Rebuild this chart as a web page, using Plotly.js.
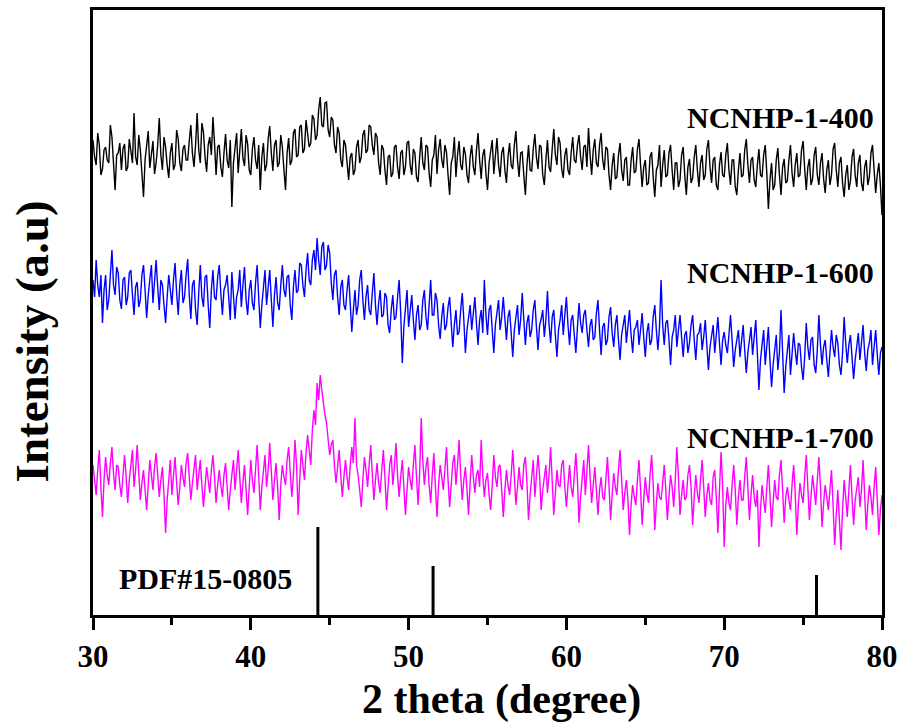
<!DOCTYPE html>
<html>
<head>
<meta charset="utf-8">
<script src="https://cdn.plot.ly/plotly-3.0.1.min.js"></script>
<style>
  html, body { margin: 0; padding: 0; background: #fff; }
  #chart { width: 905px; height: 724px; }
</style>
</head>
<body>
<div id="chart"></div>
<script>
// XRD scans, 2θ from 30° to 80° in 0.1° steps (stacked, arbitrary units)
const twoThetaStart = 30;
const twoThetaStep = 0.1;

const sampleNames = ["NCNHP-1-400", "NCNHP-1-600", "NCNHP-1-700"];

const i400 = [
  475, 458, 450, 482, 470, 440, 446, 465, 468, 455, 452, 490, 478, 448, 425, 460, 462, 472, 445, 466,
  471, 444, 448, 476, 466, 452, 502, 458, 450, 480, 465, 438, 418, 455, 470, 484, 447, 460, 474, 441,
  452, 470, 497, 460, 445, 478, 468, 450, 437, 462, 472, 445, 450, 485, 476, 452, 444, 466, 470, 455,
  455, 474, 490, 462, 448, 470, 502, 465, 452, 492, 483, 458, 443, 470, 478, 460, 498, 472, 440, 468,
  470, 448, 438, 462, 481, 455, 447, 475, 408, 452, 465, 482, 442, 460, 486, 457, 449, 480, 471, 445,
  440, 466, 478, 455, 446, 470, 425, 458, 472, 444, 450, 476, 489, 462, 444, 470, 475, 448, 452, 480,
  468, 445, 425, 462, 477, 450, 455, 482, 486, 458, 460, 488, 490, 462, 466, 495, 483, 468, 472, 500,
  496, 475, 480, 505, 518, 490, 488, 512, 513, 485, 478, 498, 495, 470, 462, 488, 482, 455, 448, 475,
  470, 450, 435, 458, 462, 440, 445, 468, 475, 452, 458, 480, 485, 462, 465, 490, 488, 470, 460, 482,
  478, 452, 440, 470, 466, 445, 430, 458, 460, 438, 442, 468, 470, 448, 436, 462, 465, 440, 448, 472,
  474, 450, 440, 466, 462, 438, 433, 458, 478, 452, 445, 470, 468, 442, 428, 455, 460, 480, 441, 465,
  476, 455, 447, 470, 463, 440, 420, 452, 458, 478, 438, 460, 474, 450, 445, 468, 461, 440, 432, 458,
  470, 448, 440, 465, 482, 455, 436, 460, 466, 442, 425, 452, 462, 475, 441, 458, 477, 450, 438, 462,
  468, 445, 432, 458, 472, 450, 446, 470, 484, 455, 438, 462, 463, 440, 420, 450, 470, 445, 444, 466,
  481, 458, 446, 470, 468, 440, 430, 455, 475, 448, 443, 466, 486, 460, 450, 478, 472, 446, 437, 460,
  467, 445, 440, 462, 478, 455, 452, 470, 480, 458, 445, 468, 470, 448, 487, 460, 440, 465, 476, 452,
  448, 470, 482, 455, 445, 468, 466, 440, 425, 450, 462, 436, 438, 460, 472, 445, 434, 455, 458, 430,
  430, 455, 468, 442, 444, 466, 476, 450, 428, 448, 455, 430, 432, 458, 463, 438, 418, 445, 450, 470,
  428, 450, 465, 438, 440, 462, 470, 445, 425, 452, 452, 428, 435, 460, 468, 440, 420, 448, 456, 432,
  437, 458, 470, 445, 428, 452, 460, 435, 440, 466, 475, 448, 432, 455, 458, 430, 425, 450, 463, 440,
  438, 460, 472, 445, 430, 455, 455, 428, 420, 445, 462, 438, 440, 465, 476, 450, 432, 455, 458, 435,
  428, 450, 466, 440, 438, 460, 470, 442, 406, 435, 452, 425, 430, 455, 467, 440, 420, 448, 456, 432,
  434, 455, 470, 442, 428, 450, 462, 438, 440, 465, 474, 446, 425, 448, 456, 430, 436, 460, 468, 440,
  430, 452, 462, 436, 422, 445, 455, 430, 440, 466, 472, 445, 428, 452, 458, 432, 418, 440, 450, 425,
  434, 458, 466, 440, 428, 452, 460, 432, 424, 448, 455, 430, 438, 462, 470, 445, 422, 440, 452, 430,
  400
];

const i600 = [
  335, 318, 355, 330, 318, 340, 292, 325, 340, 305, 315, 345, 365, 330, 320, 348, 342, 315, 306, 335,
  338, 310, 318, 342, 345, 320, 300, 328, 333, 308, 315, 340, 350, 325, 297, 320, 336, 350, 312, 330,
  355, 328, 305, 335, 330, 310, 292, 318, 340, 325, 310, 335, 352, 322, 300, 330, 345, 312, 318, 340,
  356, 320, 296, 330, 335, 305, 290, 322, 350, 318, 308, 338, 340, 310, 287, 325, 345, 318, 315, 338,
  350, 322, 300, 325, 330, 340, 312, 295, 343, 320, 296, 318, 325, 345, 308, 330, 348, 315, 300, 325,
  335, 312, 305, 332, 350, 318, 287, 310, 330, 345, 310, 325, 345, 315, 288, 320, 338, 312, 305, 330,
  350, 325, 318, 338, 340, 310, 295, 328, 345, 322, 325, 352, 350, 330, 318, 345, 362, 335, 330, 355,
  365, 345, 377, 355, 340, 368, 373, 345, 350, 370, 362, 332, 315, 340, 345, 318, 300, 328, 335, 310,
  305, 325, 340, 312, 283, 305, 325, 300, 310, 335, 345, 315, 295, 318, 330, 305, 300, 322, 342, 310,
  290, 312, 325, 298, 300, 322, 318, 290, 282, 305, 320, 295, 298, 318, 335, 302, 252, 288, 305, 325,
  288, 305, 320, 295, 275, 300, 310, 285, 290, 315, 325, 298, 285, 310, 335, 300, 300, 322, 315, 290,
  276, 298, 312, 285, 290, 308, 318, 292, 268, 290, 305, 280, 283, 305, 322, 295, 262, 285, 300, 310,
  285, 300, 318, 292, 270, 295, 305, 282, 335, 300, 280, 305, 310, 285, 262, 290, 302, 315, 285, 298,
  318, 292, 275, 298, 305, 282, 258, 285, 298, 310, 280, 295, 322, 288, 270, 292, 300, 278, 285, 305,
  315, 288, 265, 290, 296, 305, 278, 295, 324, 290, 272, 298, 305, 280, 258, 285, 295, 310, 280, 300,
  318, 290, 270, 295, 300, 280, 262, 288, 312, 292, 282, 300, 305, 285, 268, 290, 296, 275, 278, 302,
  315, 285, 260, 288, 292, 270, 275, 298, 308, 282, 268, 290, 300, 275, 255, 280, 290, 300, 272, 290,
  305, 280, 262, 285, 288, 295, 270, 285, 302, 278, 258, 282, 292, 270, 275, 298, 310, 285, 265, 288,
  335, 290, 270, 292, 295, 275, 250, 278, 285, 300, 268, 285, 300, 278, 258, 280, 284, 262, 272, 290,
  300, 275, 255, 280, 282, 292, 265, 278, 295, 270, 245, 268, 278, 290, 262, 278, 298, 272, 250, 275,
  283, 270, 262, 280, 300, 275, 248, 265, 278, 285, 258, 272, 290, 265, 242, 262, 275, 288, 260, 278,
  295, 262, 225, 255, 270, 285, 250, 268, 288, 255, 228, 250, 265, 280, 245, 262, 305, 270, 222, 248,
  262, 280, 240, 258, 282, 265, 250, 272, 270, 248, 235, 258, 292, 268, 255, 275, 278, 250, 242, 265,
  300, 270, 250, 268, 275, 255, 238, 262, 285, 268, 258, 280, 272, 250, 240, 262, 298, 272, 252, 270,
  280, 258, 236, 255, 268, 282, 255, 270, 290, 262, 244, 265, 272, 285, 250, 268, 285, 260, 240, 262,
  268
];

const i700 = [
  150, 132, 120, 145, 165, 128, 98, 135, 158, 140, 130, 152, 168, 142, 125, 150, 148, 130, 118, 140,
  160, 138, 112, 135, 150, 165, 128, 145, 170, 140, 115, 132, 145, 125, 105, 130, 155, 140, 125, 148,
  162, 140, 118, 135, 148, 120, 82, 115, 140, 155, 120, 138, 158, 132, 110, 128, 150, 138, 128, 152,
  162, 138, 115, 132, 145, 160, 125, 140, 155, 130, 108, 128, 148, 135, 122, 145, 160, 138, 112, 130,
  145, 130, 118, 140, 152, 128, 105, 125, 140, 155, 125, 142, 165, 138, 112, 132, 150, 125, 100, 128,
  155, 135, 122, 145, 170, 140, 105, 128, 148, 160, 128, 145, 172, 138, 115, 135, 152, 128, 95, 130,
  150, 138, 130, 155, 168, 142, 118, 140, 175, 150, 100, 135, 165, 150, 135, 162, 180, 165, 150, 185,
  205, 190, 232, 215, 240, 225, 210, 200, 192, 175, 160, 170, 175, 150, 132, 148, 165, 140, 118, 138,
  155, 138, 125, 150, 168, 152, 197, 150, 140, 125, 108, 135, 158, 145, 128, 150, 170, 140, 115, 135,
  152, 132, 122, 145, 165, 138, 105, 128, 150, 160, 130, 148, 172, 140, 118, 138, 155, 128, 100, 125,
  148, 135, 125, 150, 170, 138, 110, 142, 197, 155, 130, 148, 158, 130, 112, 140, 162, 128, 98, 130,
  150, 138, 125, 145, 168, 135, 108, 130, 152, 160, 130, 150, 175, 140, 115, 135, 148, 125, 100, 132,
  160, 138, 122, 140, 145, 128, 175, 140, 118, 135, 142, 120, 105, 130, 160, 138, 128, 148, 150, 125,
  98, 125, 145, 130, 120, 140, 165, 138, 110, 128, 148, 130, 125, 150, 158, 132, 95, 120, 140, 155,
  118, 135, 160, 140, 105, 125, 138, 150, 122, 140, 168, 135, 100, 122, 145, 130, 128, 150, 155, 128,
  108, 130, 150, 128, 118, 140, 162, 135, 92, 118, 140, 155, 120, 142, 170, 138, 112, 130, 148, 125,
  100, 125, 138, 118, 115, 135, 158, 130, 95, 120, 142, 128, 120, 145, 165, 135, 105, 122, 135, 115,
  80, 110, 130, 118, 110, 135, 155, 125, 90, 115, 138, 122, 112, 140, 160, 130, 85, 112, 132, 118,
  115, 132, 150, 125, 95, 118, 140, 128, 108, 135, 168, 138, 100, 120, 135, 115, 118, 140, 150, 128,
  90, 118, 140, 122, 112, 135, 155, 128, 98, 120, 132, 115, 110, 138, 145, 118, 82, 125, 163, 130,
  68, 110, 128, 112, 105, 130, 150, 125, 90, 118, 135, 115, 115, 138, 158, 128, 95, 120, 140, 118,
  108, 125, 68, 105, 130, 115, 102, 128, 150, 120, 88, 112, 135, 118, 115, 140, 155, 125, 92, 118,
  128, 115, 105, 130, 150, 122, 80, 110, 132, 120, 112, 138, 160, 128, 95, 118, 140, 125, 110, 135,
  158, 128, 88, 112, 130, 118, 105, 125, 145, 110, 70, 100, 125, 95, 65, 105, 135, 118, 98, 125,
  150, 118, 90, 115, 128, 138, 108, 125, 155, 120, 85, 110, 130, 118, 100, 128, 148, 115, 80, 105,
  120
];

// Reference card PDF#15-0805: peak positions and relative intensities
const pdfLabel = "PDF#15-0805";
const pdfPos = [44.25, 51.55, 75.85];
const pdfInt = [88, 49, 40];

const xTitle = "2 theta (degree)";
const yTitle = "Intensity (a.u)";

const serif = "Liberation Serif, Times New Roman, serif";

function scanTrace(values, color) {
  return {
    type: "scatter",
    mode: "lines",
    x0: twoThetaStart,
    dx: twoThetaStep,
    y: values,
    line: { color: color, width: 1.4 },
    showlegend: false
  };
}

// stick pattern: one vertical segment per reference peak
const stickX = [];
const stickY = [];
pdfPos.forEach((p, k) => {
  stickX.push(p, p, null);
  stickY.push(0, pdfInt[k], null);
});

const traces = [
  scanTrace(i400, "#000000"),
  scanTrace(i600, "#0000FF"),
  scanTrace(i700, "#FF00FF"),
  {
    type: "scatter",
    mode: "lines",
    x: stickX,
    y: stickY,
    line: { color: "#000000", width: 3 },
    showlegend: false
  }
];

const labelFont = { family: serif, size: 30, color: "#000", weight: "bold" };
const titleFont = { family: serif, size: 42, color: "#000", weight: "bold" };

const labelY = [498, 343, 178];
const annotations = sampleNames.map((name, k) => ({
  text: name,
  xref: "paper", yref: "y",
  x: 0.993, y: labelY[k],
  xanchor: "right", yanchor: "middle",
  showarrow: false,
  font: labelFont
}));
annotations.push({
  text: pdfLabel,
  xref: "x", yref: "y",
  x: 31.5, y: 37,
  xanchor: "left", yanchor: "middle",
  showarrow: false,
  font: labelFont
});
// axis titles
annotations.push({
  text: xTitle,
  xref: "paper", yref: "paper",
  x: 0.518, y: -0.139,
  xanchor: "center", yanchor: "middle",
  showarrow: false,
  borderpad: 0,
  font: titleFont
});
annotations.push({
  text: yTitle,
  xref: "paper", yref: "paper",
  x: -0.078, y: 0.453,
  xanchor: "center", yanchor: "middle",
  textangle: -90,
  showarrow: false,
  font: { family: serif, size: 47, color: "#000", weight: "bold" }
});

const layout = {
  width: 905,
  height: 724,
  margin: { l: 93, r: 23, t: 10, b: 109 },
  paper_bgcolor: "#ffffff",
  plot_bgcolor: "#ffffff",
  showlegend: false,
  xaxis: {
    range: [30, 80],
    dtick: 10,
    tick0: 30,
    ticks: "outside",
    ticklen: 12,
    tickwidth: 3,
    tickcolor: "#000",
    minor: { dtick: 5, ticks: "outside", ticklen: 7, tickwidth: 3, tickcolor: "#000" },
    showline: true,
    linewidth: 3,
    linecolor: "#000",
    mirror: true,
    showgrid: false,
    zeroline: false,
    tickfont: { family: serif, size: 31, color: "#000", weight: "bold" }
  },
  yaxis: {
    range: [0, 605],
    showticklabels: false,
    ticks: "",
    showline: true,
    linewidth: 3,
    linecolor: "#000",
    mirror: true,
    showgrid: false,
    zeroline: false
  },
  annotations: annotations
};

Plotly.newPlot("chart", traces, layout, { staticPlot: true, displayModeBar: false });
</script>
</body>
</html>
